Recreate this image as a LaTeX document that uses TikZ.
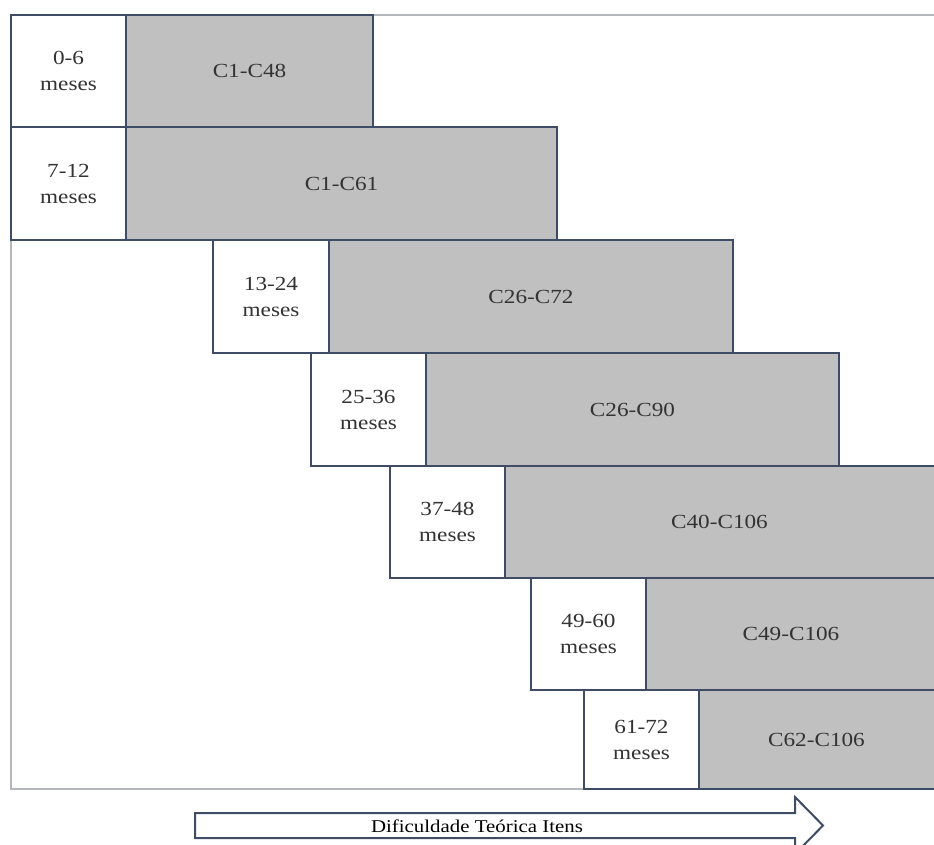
\documentclass[tikz,border=0pt]{standalone}
\usepackage{fontspec}
\setmainfont{Liberation Serif}[FakeStretch=1.16]
\definecolor{edgec}{HTML}{3E4C66}
\definecolor{fillg}{HTML}{C0C0C0}
\definecolor{framec}{HTML}{B4B8BC}
\definecolor{txtc}{HTML}{333333}
\tikzset{
  cell/.style={draw=edgec, line width=2pt, inner sep=0pt, outer sep=0pt, text=txtc, font=\fontsize{20}{26}\selectfont, align=center},
  wbox/.style={cell, fill=white, minimum width=115pt},
  gbox/.style={cell, fill=fillg},
  lbl/.style={text=txtc, font=\fontsize{20}{26}\selectfont, inner sep=0pt},
}
\begin{document}
\begin{tikzpicture}[x=1pt,y=-1pt]
\useasboundingbox (0,0) rectangle (934,845);
\fill[white] (0,0) rectangle (934,845);
\begin{scope}
\clip (0,0) rectangle (934,845);
% frame
\coordinate (f1) at (11,789);
\coordinate (f2) at (11,15);
\coordinate (f3) at (934,15);
\coordinate (f4) at (584,789);
\draw[framec, line width=1.5pt] (f4) -- (f1) -- (f2) -- (f3);
% row 1
\node[wbox, minimum height=112pt] (w1) at (68.5,71) {0-6\\meses};
\node[gbox, minimum width=247pt, minimum height=112pt] (g1) at (249.5,71) {C1-C48};
% row 2
\node[wbox, minimum height=113pt] (w2) at (68.5,183.5) {7-12\\meses};
\node[gbox, minimum width=431pt, minimum height=113pt] (g2) at (341.5,183.5) {C1-C61};
% row 3
\node[wbox, minimum width=116pt, minimum height=113pt] (w3) at (271,296.5) {13-24\\meses};
\node[gbox, minimum width=404pt, minimum height=113pt] (g3) at (531,296.5) {C26-C72};
% row 4
\node[wbox, minimum height=113pt] (w4) at (368.5,409.5) {25-36\\meses};
\node[gbox, minimum width=413pt, minimum height=113pt] (g4) at (632.5,409.5) {C26-C90};
% row 5
\node[wbox, minimum height=112pt] (w5) at (447.5,522) {37-48\\meses};
\node[gbox, minimum width=433pt, minimum height=112pt] (g5) at (721.5,522) {};
\node[lbl] (t5) at (719.5,522) {C40-C106};
% row 6
\node[wbox, minimum height=112pt] (w6) at (588.5,634) {49-60\\meses};
\node[gbox, minimum width=292pt, minimum height=112pt] (g6) at (792,634) {};
\node[lbl] (t6) at (791,634) {C49-C106};
% row 7
\node[wbox, minimum height=99pt] (w7) at (641.5,739.5) {61-72\\meses};
\node[gbox, minimum width=239pt, minimum height=99pt] (g7) at (818.5,739.5) {};
\node[lbl] (t7) at (816.5,739.5) {C62-C106};
% arrow
\coordinate (a1) at (195,813);
\coordinate (a2) at (795,813);
\coordinate (a3) at (795,797);
\coordinate (a4) at (823,825.5);
\coordinate (a5) at (795,854);
\coordinate (a6) at (795,838);
\coordinate (a7) at (195,838);
\draw[edgec, line width=2pt, fill=white, line join=miter] (a1) -- (a2) -- (a3) -- (a4) -- (a5) -- (a6) -- (a7) -- cycle;
\node[text=black, font=\fontsize{18}{20}\selectfont, inner sep=0pt] (at) at (477,826) {Dificuldade Teórica Itens};
\end{scope}
\end{tikzpicture}
\end{document}
